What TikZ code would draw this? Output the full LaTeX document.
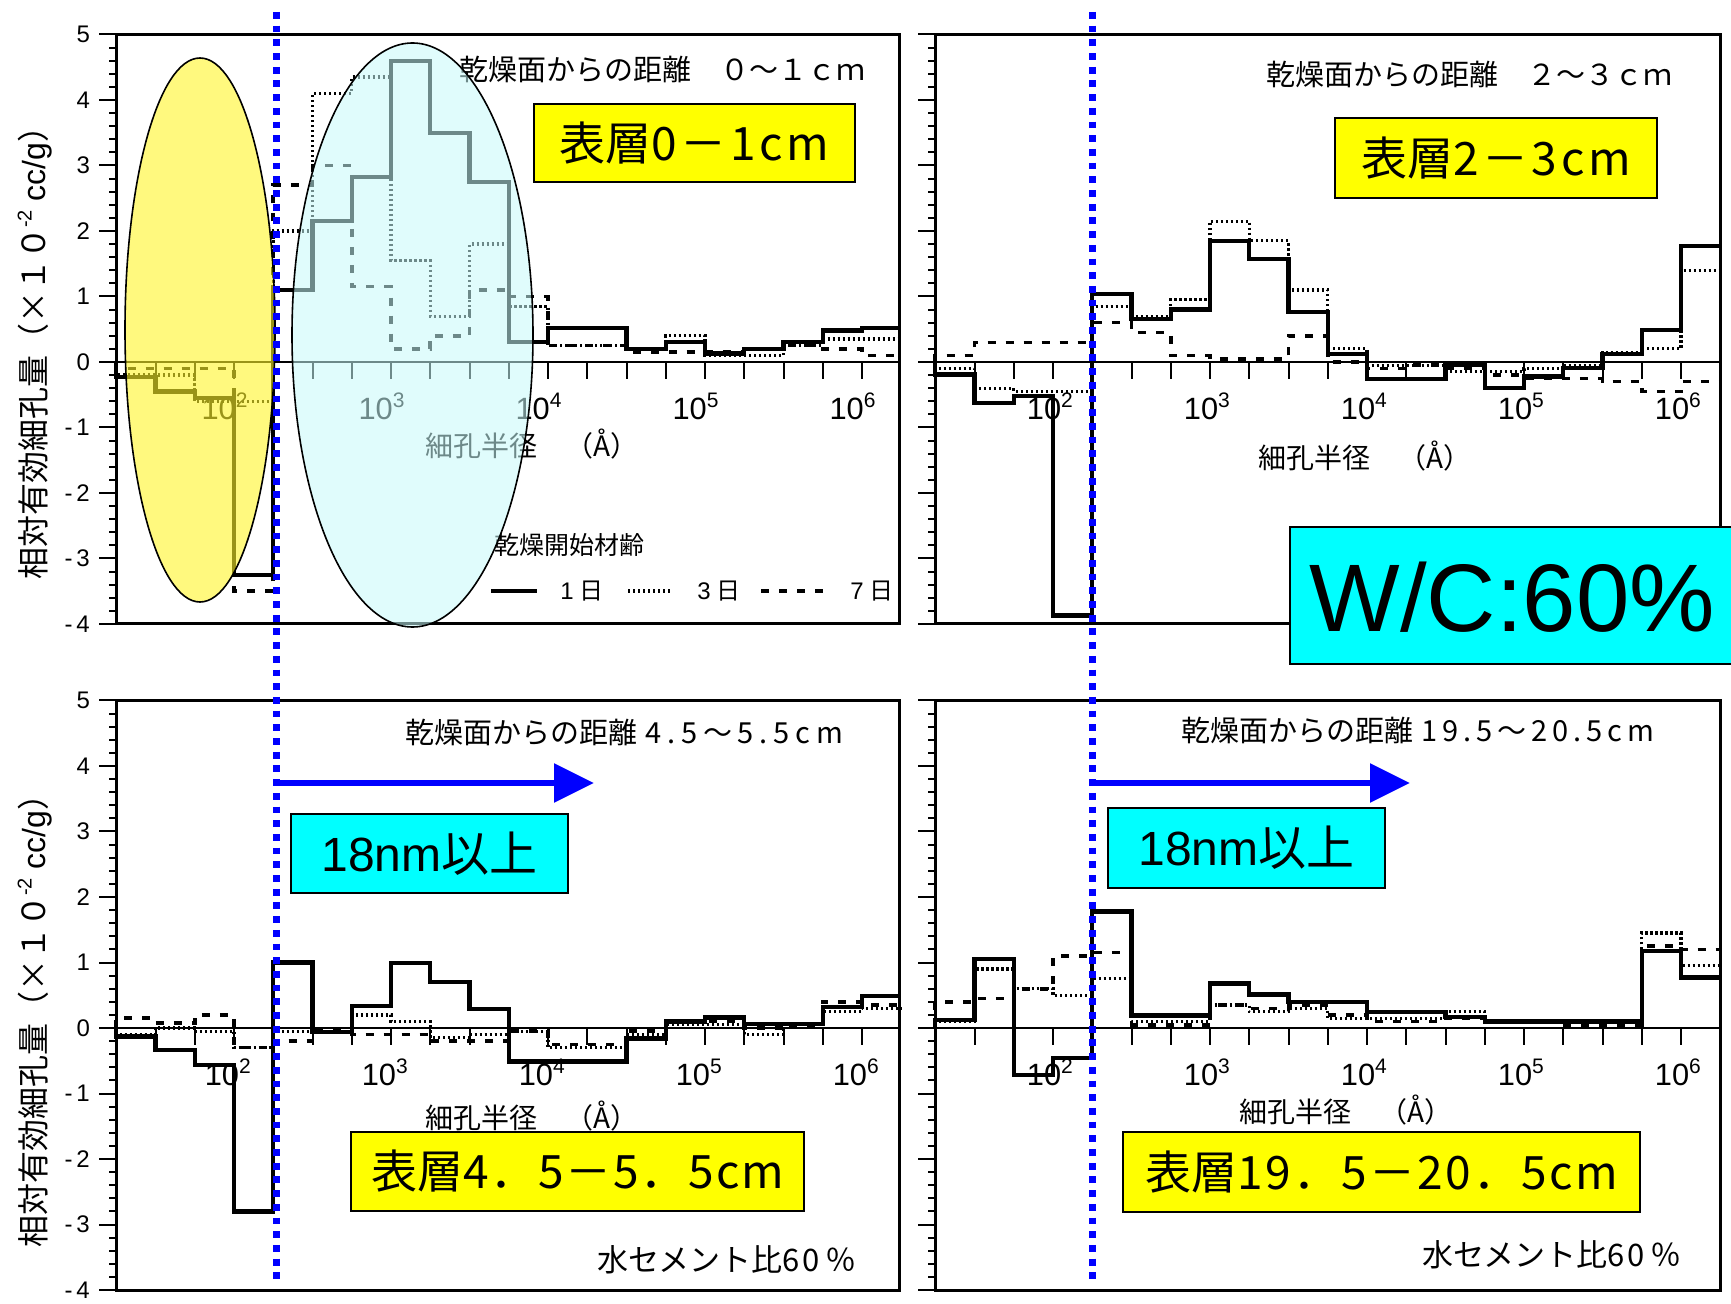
\documentclass[tikz,border=0pt]{standalone}
\usepackage{fontspec}
\setmainfont{Liberation Sans}
\newfontfamily\jp{Noto Sans CJK JP}
\usetikzlibrary{arrows.meta}
\definecolor{aqua}{RGB}{0,255,255}
\definecolor{ylw}{RGB}{255,255,0}
\newcommand\pw[1]{10\raisebox{6pt}{\fontsize{10.5pt}{10.5pt}\selectfont #1}}
\newcommand\ls[2]{{\addfontfeature{LetterSpace=#1}#2}}
\newcommand\hist[2]{\draw[#1] (1.25,0) \foreach \v [count=\i] in {#2} { |- ({1.25+0.25*\i},\v) };}
\newcommand\axes[1]{%
  \draw[zl] (1.25,0) -- (6.25,0);
  \foreach \k in {6,7,...,24} \draw[tk] (\k/4,0) -- ++(0,-8.5pt);
  \foreach \k in {-20,-19,...,25} \draw[tk] (1.25,\k/5) -- ++(-3.5pt,0);
  \foreach \k in {-4,...,5} \draw[tk] (1.25,\k) -- ++(-8.5pt,0);
  \foreach \n in {2,...,6} \node[xlab] at (\n+#1,-0.47) {\pw{\n}};
}
\tikzset{
 pframe/.style={line width=1.5pt},
 zl/.style={line width=1pt},
 tk/.style={line width=1pt},
 hsol/.style={line width=2.1pt, line join=miter},
 hdot/.style={line width=1.6pt, dash pattern=on 1.1pt off 1.4pt},
 hdsh/.style={line width=1.8pt, dash pattern=on 4pt off 5pt},
 ttl/.style={font=\jp\fontsize{14.5pt}{14.5pt}\selectfont, anchor=west, inner sep=0pt},
 xlab/.style={font=\fontsize{15.4pt}{15.4pt}\selectfont, anchor=north, inner sep=0pt},
 ylab/.style={font=\fontsize{12pt}{12pt}\selectfont, anchor=east, inner sep=0pt, xshift=-13pt},
 ybox/.style={draw=black, line width=0.8pt, fill=ylw, inner sep=0pt, font=\jp\fontsize{23pt}{23pt}\selectfont},
 cbox/.style={draw=black, line width=0.8pt, fill=aqua, inner sep=0pt},
 bdot/.style={blue, line width=3.5pt, dash pattern=on 3.4pt off 3.45pt},
 barrow/.style={blue, line width=3pt, -{Triangle[length=20pt,width=19pt]}},
 panelTL/.style={shift={(-40pt,-181pt)}, x=78.5pt, y=32.75pt},
 panelTR/.style={shift={(369.5pt,-181pt)}, x=78.5pt, y=32.75pt},
 panelBL/.style={shift={(-40pt,-514pt)}, x=78.5pt, y=32.75pt},
 panelBR/.style={shift={(369.5pt,-514pt)}, x=78.5pt, y=32.75pt},
}
\begin{document}
\begin{tikzpicture}[x=0.5pt,y=-0.5pt]
\useasboundingbox (0,0) rectangle (1731,1304);
\fill[white] (0,0) rectangle (1731,1304);

% ---------- top left ----------
\begin{scope}[panelTL]
  \axes{-0.06}
  \foreach \k in {-4,...,5} \node[ylab] at (1.25,\k) {\ifnum\k<0 -\hspace{2pt}\the\numexpr-\k\relax\else\k\fi};
  \hist{hdsh}{-0.1,-0.1,-0.1,-3.5,2.7,3.0,1.15,0.2,0.4,1.1,1.0,0.25,0.25,0.15,0.15,0.15,0.2,0.25,0.2,0.1}
  \hist{hdot}{-0.2,-0.2,-0.6,-0.6,2.0,4.1,4.35,1.55,0.7,1.8,0.85,0.25,0.25,0.2,0.4,0.1,0.1,0.25,0.35,0.35}
  \hist{hsol}{-0.23,-0.45,-0.55,-3.25,1.1,2.15,2.82,4.6,3.5,2.75,0.3,0.52,0.52,0.2,0.3,0.13,0.2,0.3,0.48,0.52}
  \draw[pframe] (1.25,-4) rectangle (6.24,5);
\end{scope}
\node[ttl] (t1) at (459,70) {乾燥面からの距離　０～１ｃｍ};
\node[ttl, font=\jp\fontsize{14pt}{14pt}\selectfont] (x1) at (425,444) {細孔半径　（Å）};
\node[ttl, font=\jp\fontsize{12.5pt}{12.5pt}\selectfont] (lg) at (494,545) {乾燥開始材齢};
\draw[hsol] (491,591) -- (537,591);
\node[ttl, font=\fontsize{12pt}{12pt}\selectfont] (l1) at (560,591) {1\hspace{3pt}{\jp 日}};
\draw[hdot] (628,591) -- (672,591);
\node[ttl, font=\fontsize{12pt}{12pt}\selectfont] (l3) at (697,591) {3\hspace{3pt}{\jp 日}};
\draw[hdsh] (761,591) -- (824,591);
\node[ttl, font=\fontsize{12pt}{12pt}\selectfont] (l7) at (850,591) {7\hspace{3pt}{\jp 日}};
\node[rotate=90, inner sep=0pt, font=\fontsize{16pt}{16pt}\selectfont] (yt1) at (35,345)
  {{\jp 相対有効細孔量（×１０}\raisebox{7pt}{\fontsize{10pt}{10pt}\selectfont -2}\ cc/g{\jp ）}};

% ellipses
\fill[fill={rgb,255:red,255;green,245;blue,40}, fill opacity=0.6] (200,330) ellipse [x radius=37.5pt, y radius=136pt];
\draw[line width=0.8pt] (200,330) ellipse [x radius=37.5pt, y radius=136pt];
\fill[fill={rgb,255:red,200;green,250;blue,250}, fill opacity=0.55] (412.5,335) ellipse [x radius=60.25pt, y radius=146pt];
\draw[line width=0.8pt] (412.5,335) ellipse [x radius=60.25pt, y radius=146pt];

% ---------- top right ----------
\begin{scope}[panelTR]
  \axes{-0.02}
  \hist{hdsh}{0.1,0.3,0.3,0.3,0.6,0.45,0.1,0.05,0.05,0.4,0.0,-0.1,-0.05,-0.1,-0.2,-0.25,-0.25,-0.3,-0.45,-0.3}
  \hist{hdot}{-0.1,-0.4,-0.45,-0.45,0.85,0.7,0.95,2.15,1.85,1.1,0.2,-0.05,-0.05,-0.15,-0.15,-0.1,-0.05,0.15,0.2,1.4}
  \hist{hsol}{-0.19,-0.63,-0.52,-3.87,1.04,0.66,0.80,1.85,1.57,0.76,0.12,-0.26,-0.26,-0.05,-0.4,-0.22,-0.09,0.12,0.49,1.77}
  \draw[pframe] (1.25,-4) rectangle (6.25,5);
\end{scope}
\node[ttl] (t2) at (1266,75) {乾燥面からの距離　２～３ｃｍ};
\node[ttl, font=\jp\fontsize{14pt}{14pt}\selectfont] (x2) at (1258,456) {細孔半径　（Å）};

% ---------- bottom left ----------
\begin{scope}[panelBL]
  \axes{-0.04}
  \foreach \k in {-4,...,5} \node[ylab] at (1.25,\k) {\ifnum\k<0 -\hspace{2pt}\the\numexpr-\k\relax\else\k\fi};
  \hist{hdsh}{0.15,0.08,0.2,-0.3,-0.2,-0.05,-0.1,-0.1,-0.2,-0.2,-0.05,-0.25,-0.25,-0.05,0.1,0.1,0.0,0.05,0.4,0.35}
  \hist{hdot}{-0.1,0.0,-0.05,-0.3,-0.05,-0.05,0.2,0.1,-0.15,-0.1,-0.05,-0.3,-0.3,-0.1,0.05,0.05,-0.1,0.05,0.25,0.3}
  \hist{hsol}{-0.13,-0.33,-0.56,-2.8,1.0,-0.06,0.34,0.99,0.70,0.29,-0.51,-0.51,-0.51,-0.16,0.1,0.16,0.06,0.06,0.32,0.49}
  \draw[pframe] (1.25,-4) rectangle (6.24,5);
\end{scope}
\node[ttl] (t3) at (405,732) {乾燥面からの距離\hspace{4pt}\ls{20}{4.5～5.5cm}};
\node[ttl, font=\jp\fontsize{14pt}{14pt}\selectfont] (x3) at (425,1116) {細孔半径　（Å）};
\node[ttl, font=\jp\fontsize{15.5pt}{15.5pt}\selectfont] (w3) at (597,1260) {水セメント比\ls{8}{60}\hspace{3pt}％};
\node[rotate=90, inner sep=0pt, font=\fontsize{16pt}{16pt}\selectfont] (yt2) at (35,1013)
  {{\jp 相対有効細孔量（×１０}\raisebox{7pt}{\fontsize{10pt}{10pt}\selectfont -2}\ cc/g{\jp ）}};

% ---------- bottom right ----------
\begin{scope}[panelBR]
  \axes{-0.02}
  \hist{hdsh}{0.4,0.45,0.6,1.1,1.15,0.05,0.05,0.35,0.3,0.35,0.2,0.1,0.1,0.15,0.1,0.1,0.05,0.05,1.25,1.2}
  \hist{hdot}{0.1,0.9,0.6,0.5,0.75,0.1,0.1,0.35,0.25,0.3,0.15,0.15,0.15,0.25,0.1,0.1,0.1,0.1,1.45,0.95}
  \hist{hsol}{0.12,1.05,-0.72,-0.46,1.78,0.19,0.19,0.68,0.51,0.40,0.40,0.25,0.25,0.17,0.1,0.1,0.1,0.1,1.17,0.77}
  \draw[pframe] (1.25,-4) rectangle (6.25,5);
\end{scope}
\node[ttl] (t4) at (1181,730) {乾燥面からの距離\hspace{4pt}\ls{17}{19.5～20.5cm}};
\node[ttl, font=\jp\fontsize{14pt}{14pt}\selectfont] (x4) at (1239,1110) {細孔半径　（Å）};
\node[ttl, font=\jp\fontsize{15.5pt}{15.5pt}\selectfont] (w4) at (1422,1255) {水セメント比\ls{8}{60}\hspace{3pt}％};

% ---------- blue dotted lines ----------
\coordinate (v1a) at (276,12); \coordinate (v1b) at (276,1286);
\coordinate (v2a) at (1092,12); \coordinate (v2b) at (1092,1286);
\draw[bdot] (v1a) -- (v1b);
\draw[bdot] (v2a) -- (v2b);

% ---------- boxes ----------
\node[ybox, minimum width=160.5pt, minimum height=39pt] (b1) at (694.5,143) {表層\ls{8}{0－1cm}};
\node[ybox, minimum width=161pt, minimum height=40pt] (b2) at (1496,158) {表層\ls{8}{2－3cm}};
\node[ybox, minimum width=226.5pt, minimum height=39.5pt] (b3) at (577.5,1171.5) {表層\ls{4}{4．5－5．5cm}};
\node[ybox, minimum width=258.5pt, minimum height=40pt] (b4) at (1381.5,1172) {表層\ls{5}{19．5－20．5cm}};

\node[cbox, minimum width=222pt, minimum height=68.5pt] (wc) at (1512,595.5) {};
\node[anchor=base west, inner sep=0pt, font=\fontsize{48pt}{48pt}\selectfont] (wct) at (1309,632) {W/C:60\%};

\node[cbox, minimum width=138.5pt, minimum height=39.5pt, font=\fontsize{24pt}{24pt}\selectfont] (n1) at (429.5,853.5) {18nm{\jp 以上}};
\node[cbox, minimum width=138.5pt, minimum height=40pt, font=\fontsize{24pt}{24pt}\selectfont] (n2) at (1246.5,848) {18nm{\jp 以上}};

% ---------- arrows ----------
\coordinate (a1s) at (276,783); \coordinate (a1e) at (594,783);
\coordinate (a2s) at (1092,783); \coordinate (a2e) at (1410,783);
\draw[barrow] (a1s) -- (a1e);
\draw[barrow] (a2s) -- (a2e);
\end{tikzpicture}
\end{document}
